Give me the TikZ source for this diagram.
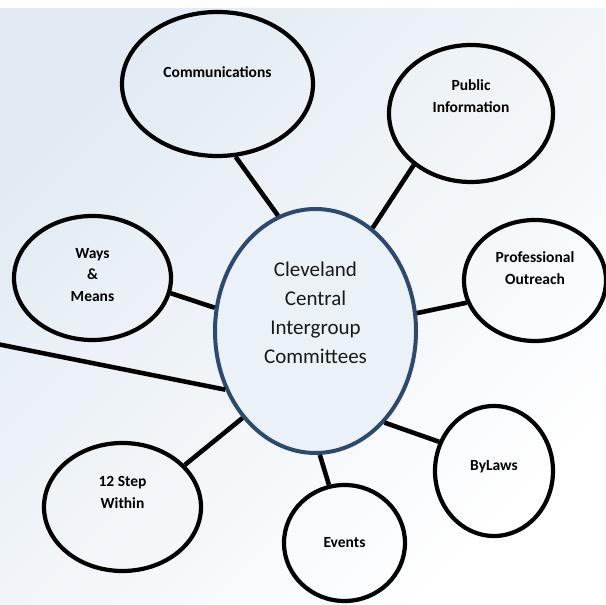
\documentclass[tikz,border=0pt]{standalone}
\usepackage{fontspec}
\setmainfont{Carlito}
\usetikzlibrary{shapes.geometric}
\definecolor{navy}{HTML}{2C4A6E}
\definecolor{hubfill}{HTML}{EBF2F7}
\definecolor{bgl}{HTML}{E2EBF3}

\begin{document}
\begin{tikzpicture}[x=1pt,y=1pt,line width=4.6pt,
 sat/.style={ellipse,draw,line width=4.2pt,inner sep=0pt},
 hub/.style={ellipse,draw=navy,fill=hubfill,line width=4pt,inner sep=0pt},
 lab/.style={font=\fontsize{15.5}{21.5}\selectfont\bfseries,align=center,inner sep=0pt},
 hublab/.style={font=\fontsize{21}{29}\selectfont,align=center,text=black!90,inner sep=0pt}]
\useasboundingbox (0,0) rectangle (605,605);
\shade[left color=bgl,right color=white,shading angle=45] (0,0) rectangle (605,596);
% committees round the hub
\node[hub,minimum width=201pt,minimum height=244pt,label={[hublab,yshift=18pt]center:{Cleveland\\Central\\Intergroup\\Committees}}] (cent) at (315.5,274) {};
\foreach \n/\x/\y/\w/\h/\s/\t in {comm/217.5/521/191/144/12/Communications,pub/471/491.5/164/137/17.5/Public\\Information,prof/535/324.5/142/121/12.5/Professional\\Outreach,ways/92.5/327/157/124/3/Ways\\\&\\Means,step/122.5/98/157/128/14.5/12 Step\\Within,events/344.5/62/121/116/0/Events,bylaws/494/134/118/130/4/ByLaws}
 \node[sat,minimum width=\w pt,minimum height=\h pt,label={[lab,yshift=\s pt]center:{\t}}] (\n) at (\x,\y) {};
\foreach \a/\n/\b in {108.5/comm/284.4,61.4/pub/222.9,10.5/prof/198.8,167.4/ways/349.4,230.8/step/34.8,272.4/events/105,307.3/bylaws/152.6}
 \draw (cent.\a) -- (\n.\b);
\coordinate (edge) at (-3,261);
\draw (cent.213.5) -- (edge);
\end{tikzpicture}
\end{document}
